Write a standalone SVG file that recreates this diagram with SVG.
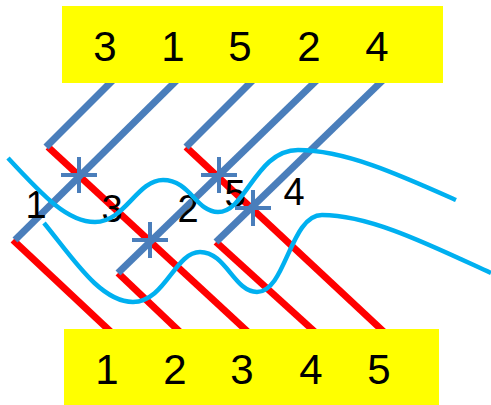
<svg xmlns="http://www.w3.org/2000/svg" width="491" height="405" viewBox="0 0 491 405">
<style>
.red{stroke:#ff0000;stroke-width:7;fill:none}
.blue{stroke:#4a7ebb;stroke-width:7;fill:none}
.cyan{stroke:#00b0f0;stroke-width:4.5;fill:none}
.star{stroke:#4a7ebb;stroke-width:4;fill:none}
.box{fill:#ffff00}
.big{font-family:"Liberation Sans",Arial,sans-serif;font-size:42px;fill:#000;text-anchor:middle}
.mid{font-family:"Liberation Sans",Arial,sans-serif;font-size:38px;fill:#000;text-anchor:middle}
</style>
<defs>
<path id="plus" class="star" d="M-18,0H18M0,-18V18"/>
</defs>
<g id="connectors">
<g id="red-lines">
<line class="red" x1="48" y1="147" x2="248" y2="332"/>
<line class="red" x1="13" y1="240" x2="111" y2="332"/>
<line class="red" x1="186" y1="147" x2="384" y2="332"/>
<line class="red" x1="118" y1="273" x2="180" y2="332"/>
<line class="red" x1="216" y1="242" x2="315" y2="332"/>
</g>
<g id="blue-lines">
<line class="blue" x1="113" y1="80" x2="46" y2="147"/>
<line class="blue" x1="177" y1="80" x2="15" y2="240"/>
<line class="blue" x1="253" y1="80" x2="186" y2="147"/>
<line class="blue" x1="317" y1="80" x2="118" y2="273"/>
<line class="blue" x1="383" y1="80" x2="216" y2="242"/>
</g>
</g>
<g id="top-box">
<rect class="box" x="62" y="6" width="381" height="77"/>
<text class="big" x="105" y="61">3</text>
<text class="big" x="173" y="61">1</text>
<text class="big" x="240" y="61">5</text>
<text class="big" x="309" y="61">2</text>
<text class="big" x="377" y="61">4</text>
</g>
<g id="bottom-box">
<rect class="box" x="64" y="329" width="375" height="76"/>
<text class="big" x="107" y="384">1</text>
<text class="big" x="175" y="384">2</text>
<text class="big" x="242" y="384">3</text>
<text class="big" x="311" y="384">4</text>
<text class="big" x="379" y="384">5</text>
</g>
<g id="mid-labels">
<text class="mid" x="36" y="218">1</text>
<text class="mid" x="112" y="222">3</text>
<text class="mid" x="188" y="222">2</text>
<text class="mid" x="235" y="207">5</text>
<text class="mid" x="294" y="205">4</text>
</g>
<g id="curves">
<path class="cyan" d="M8,158 C45,198 68,222 95,222 C125,222 137,180 163,180 C190,180 196,212 218,212 C246,212 256,150 298,150 C345,150 400,175 456,200"/>
<path class="cyan" d="M44,223 C72,257 100,302 133,302 C165,302 175,252 200,252 C226,252 234,292 257,292 C286,292 290,215 322,215 C370,215 430,245 491,273"/>
</g>
<g id="stars">
<use href="#plus" x="79" y="175"/>
<use href="#plus" x="150" y="240"/>
<use href="#plus" x="219" y="175"/>
<use href="#plus" x="253" y="208"/>
</g>
</svg>
